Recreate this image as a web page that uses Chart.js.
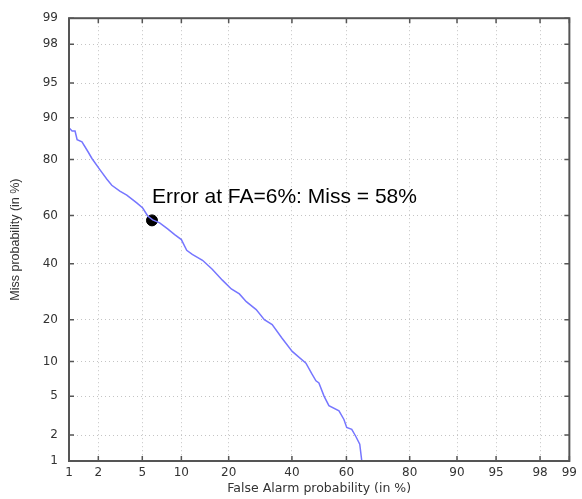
<!DOCTYPE html>
<html>
<head>
<meta charset="utf-8">
<script src="https://cdn.jsdelivr.net/npm/chart.js@4/dist/chart.umd.min.js"></script>
<style>
  html, body { margin: 0; padding: 0; background: #fff; }
  #wrap { width: 582px; height: 499px; position: relative; }
</style>
</head>
<body>
<div id="wrap"><canvas id="detChart"></canvas></div>
<script>
// DET curve values (in %)
var falseAlarm = [1.0, 1.08, 1.16, 1.22, 1.37, 1.58, 1.73, 2.07, 2.42, 2.69, 3.19, 3.68, 4.49, 5.04, 5.54, 6.08,
    6.9, 7.94, 8.95, 10.0, 10.9, 11.9, 13.9, 16.0, 18.4, 20.7, 22.9, 24.9, 27.9, 30.5, 33.1, 36.5, 40.1,
    45.1, 47.3, 48.8, 49.9, 51.8, 53.6, 57.3, 59.1, 60.1, 61.9, 63.3, 64.7, 65.4, 67.8];
var missRate = [88.0, 87.3, 87.3, 85.3, 84.8, 82.2, 80.3, 76.9, 73.7, 71.6, 69.5, 68.0, 65.0, 63.0, 59.8, 58.2,
    57.0, 54.5, 52.1, 50.0, 45.5, 43.8, 41.4, 37.8, 33.5, 30.2, 28.4, 25.7, 23.1, 20.0, 18.6, 15.0, 12.0,
    9.7, 7.9, 6.9, 6.6, 5.0, 4.05, 3.6, 2.94, 2.42, 2.31, 1.94, 1.58, 1.0, 1.0];

// operating point
var opFA = 6;
var opMiss = 58;
var opLabel = 'Error at FA=6%: Miss = 58%';

// tick labels on both axes
var tickPct = [1, 2, 5, 10, 20, 40, 60, 80, 90, 95, 98, 99];

// inverse normal cdf (Acklam)
function probit(p) {
    var a = [-3.969683028665376e+01, 2.209460984245205e+02, -2.759285104469687e+02, 1.383577518672690e+02, -3.066479806614716e+01, 2.506628277459239e+00];
    var b = [-5.447609879822406e+01, 1.615858368580409e+02, -1.556989798598866e+02, 6.680131188771972e+01, -1.328068155288572e+01];
    var c = [-7.784894002430293e-03, -3.223964580411365e-01, -2.400758277161838e+00, -2.549732539343734e+00, 4.374664141464968e+00, 2.938163982698783e+00];
    var d = [7.784695709041462e-03, 3.224671290700398e-01, 2.445134137142996e+00, 3.754408661907416e+00];
    var q, r;
    if (p < 0.02425) {
        q = Math.sqrt(-2 * Math.log(p));
        return (((((c[0]*q+c[1])*q+c[2])*q+c[3])*q+c[4])*q+c[5]) / ((((d[0]*q+d[1])*q+d[2])*q+d[3])*q+1);
    }
    if (p > 1 - 0.02425) {
        q = Math.sqrt(-2 * Math.log(1 - p));
        return -(((((c[0]*q+c[1])*q+c[2])*q+c[3])*q+c[4])*q+c[5]) / ((((d[0]*q+d[1])*q+d[2])*q+d[3])*q+1);
    }
    q = p - 0.5;
    r = q * q;
    return (((((a[0]*r+a[1])*r+a[2])*r+a[3])*r+a[4])*r+a[5])*q / (((((b[0]*r+b[1])*r+b[2])*r+b[3])*r+b[4])*r+1);
}

var curve = falseAlarm.map(function (fa, i) {
    return { x: probit(fa / 100), y: probit(missRate[i] / 100) };
});

function probitTicks(scale) {
    scale.ticks = tickPct.map(function (v) { return { value: probit(v / 100) }; });
}

var tickFont = { family: 'DejaVu Sans', size: 12 };

// frame with inward ticks on all four sides, plus the operating point text
var framePlugin = {
    id: 'detFrame',
    afterDatasetsDraw: function (chart) {
        var ctx = chart.ctx;
        var a = chart.chartArea;
        var xs = chart.scales.x, ys = chart.scales.y;
        ctx.save();
        ctx.strokeStyle = '#555';
        ctx.lineWidth = 1.5;
        ctx.beginPath();
        tickPct.forEach(function (v) {
            var px = xs.getPixelForValue(probit(v / 100));
            ctx.moveTo(px, a.bottom); ctx.lineTo(px, a.bottom - 5);
            ctx.moveTo(px, a.top); ctx.lineTo(px, a.top + 5);
            var py = ys.getPixelForValue(probit(v / 100));
            ctx.moveTo(a.left, py); ctx.lineTo(a.left + 5, py);
            ctx.moveTo(a.right, py); ctx.lineTo(a.right - 5, py);
        });
        ctx.stroke();
        ctx.lineWidth = 2;
        ctx.strokeRect(a.left, a.top, a.right - a.left, a.bottom - a.top);

        var ox = xs.getPixelForValue(probit(opFA / 100));
        var oy = ys.getPixelForValue(probit(opMiss / 100));
        ctx.fillStyle = '#000';
        ctx.font = '21px "Liberation Sans", Arial, sans-serif';
        ctx.textAlign = 'left';
        ctx.textBaseline = 'alphabetic';
        ctx.fillText(opLabel, ox, oy - 17);
        ctx.restore();
    }
};

var ctx = document.getElementById('detChart').getContext('2d');
var detChart = new Chart(ctx, {
    type: 'scatter',
    data: {
        datasets: [{
            label: 'DET',
            data: curve,
            showLine: true,
            borderColor: '#7676ff',
            borderWidth: 1.5,
            pointRadius: 0,
            fill: false
        }, {
            label: 'Operating point',
            data: [{ x: probit(opFA / 100), y: probit(opMiss / 100) }],
            pointRadius: 5.5,
            pointBackgroundColor: '#000',
            pointBorderColor: '#000',
            showLine: false
        }]
    },
    options: {
        responsive: true,
        maintainAspectRatio: false,
        animation: false,
        layout: { padding: { top: 13, right: 10, left: 0, bottom: 0 } },
        plugins: {
            legend: { display: false },
            tooltip: { enabled: false }
        },
        scales: {
            x: {
                type: 'linear',
                min: probit(0.01),
                max: probit(0.99),
                afterBuildTicks: probitTicks,
                afterFit: function (scale) { scale.height = 38; },
                grid: { color: '#c4c4c4', lineWidth: 1, drawTicks: false },
                border: { display: false, dash: [1, 3] },
                ticks: {
                    padding: 5,
                    color: '#333',
                    font: tickFont,
                    maxRotation: 0,
                    autoSkip: false,
                    callback: function (val, idx) { return String(tickPct[idx]); }
                },
                title: {
                    display: true,
                    text: 'False Alarm probability (in %)',
                    color: '#333',
                    font: { family: 'DejaVu Sans', size: 12.5 },
                    padding: { top: 0, bottom: 3 }
                }
            },
            y: {
                type: 'linear',
                min: probit(0.01),
                max: probit(0.99),
                afterBuildTicks: probitTicks,
                afterFit: function (scale) { scale.width = 69; },
                grid: { color: '#c4c4c4', lineWidth: 1, drawTicks: false },
                border: { display: false, dash: [1, 3] },
                ticks: {
                    padding: 11,
                    color: '#333',
                    font: tickFont,
                    autoSkip: false,
                    callback: function (val, idx) { return String(tickPct[idx]); }
                },
                title: {
                    display: true,
                    text: 'Miss probability (in %)',
                    color: '#333',
                    font: { family: 'Liberation Sans', size: 12.5 },
                    padding: { top: 8, bottom: 0 }
                }
            }
        }
    },
    plugins: [framePlugin]
});
</script>
</body>
</html>
